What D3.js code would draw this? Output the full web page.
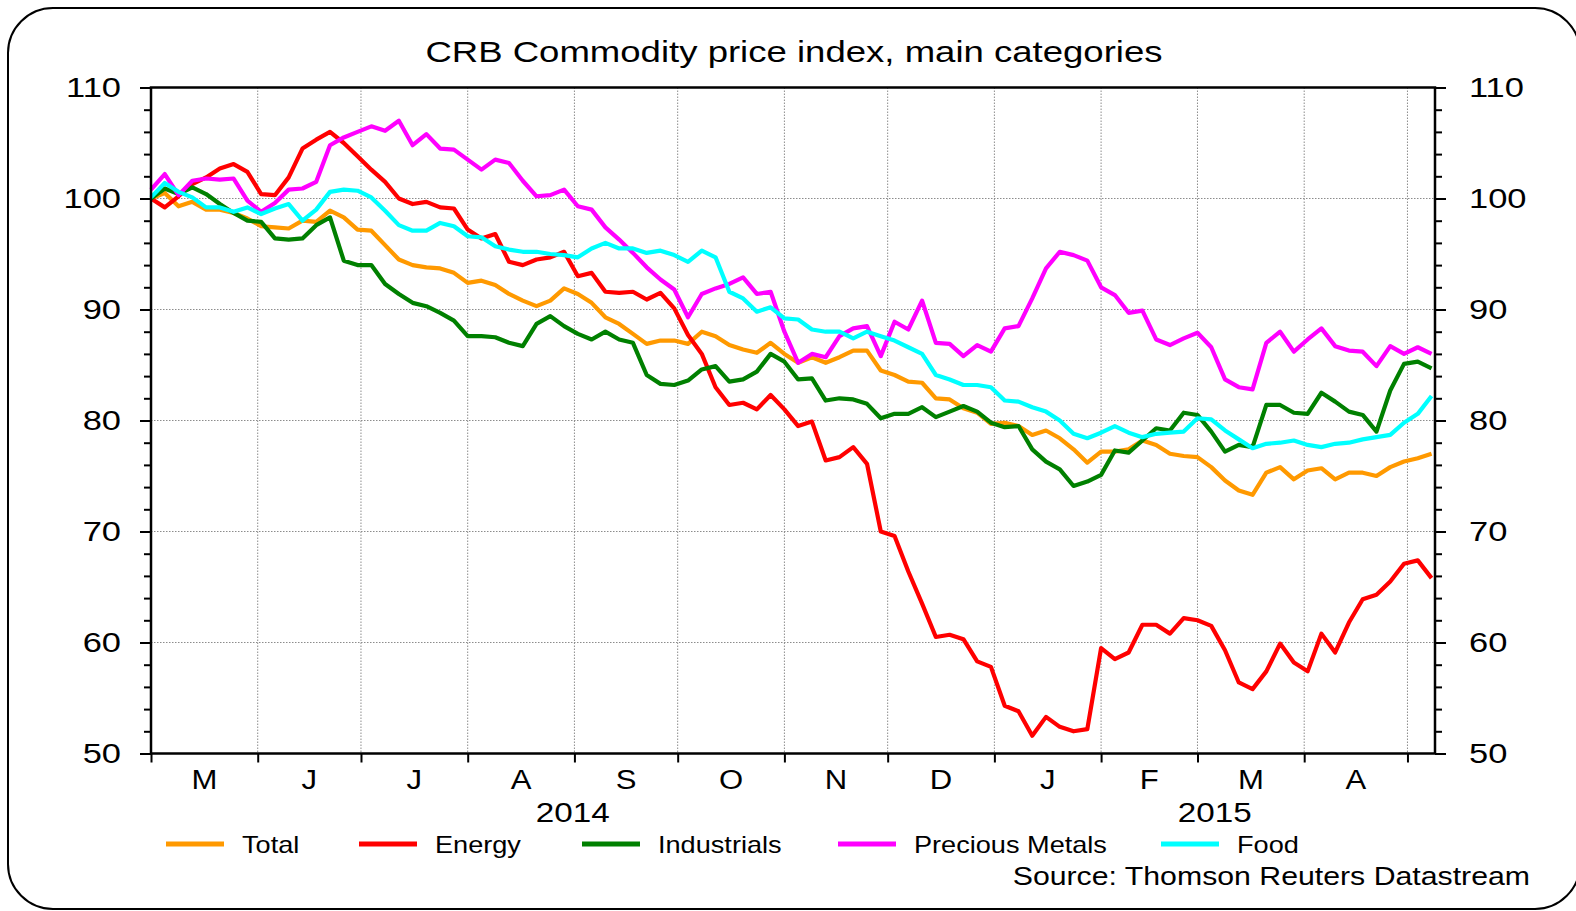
<!DOCTYPE html>
<html>
<head>
<meta charset="utf-8">
<script src="https://cdn.jsdelivr.net/npm/d3@7"></script>
<style>
  body { margin: 0; background: #fff; }
  text { font-family: "Liberation Sans", Arial, sans-serif; fill: #000; }
</style>
</head>
<body>
<div id="container"></div>
<script>
/* CONSTANTS AND GLOBALS */
const width = 1576;
const height = 911;
const margin = { top: 87.5, bottom: 157.5, left: 151, right: 141 };
const stretch = 1.23; // source font is set wider than Arial

/* DATA */
// one reading every 4 days, starting 1 May 2014
const startDate = new Date(2014, 4, 1);
const endDate = new Date(2015, 4, 9);
const dates = d3.timeDay.range(startDate, endDate, 4);

const seriesNames = ["Total", "Energy", "Industrials", "Precious Metals", "Food"];
const seriesColors = ["#ff9900", "#ff0000", "#008000", "#ff00ff", "#00ffff"];

const total = [
  100.0, 100.5, 99.3, 99.7, 99.0, 99.0, 98.7, 98.2, 97.5, 97.4,
  97.3, 98.0, 97.9, 98.9, 98.3, 97.2, 97.1, 95.8, 94.5, 94.0,
  93.8, 93.7, 93.3, 92.4, 92.6, 92.2, 91.4, 90.8, 90.3, 90.8,
  91.9, 91.4, 90.6, 89.3, 88.7, 87.8, 86.9, 87.2, 87.2, 86.9,
  88.0, 87.6, 86.8, 86.4, 86.1, 87.0, 86.0, 85.2, 85.7, 85.2,
  85.7, 86.3, 86.3, 84.5, 84.1, 83.5, 83.4, 82.0, 81.9, 81.1,
  80.7, 79.7, 79.8, 79.5, 78.7, 79.1, 78.4, 77.4, 76.2, 77.2,
  77.2, 77.4, 78.2, 77.8, 77.0, 76.8, 76.7, 75.8, 74.6, 73.7,
  73.3, 75.3, 75.8, 74.7, 75.5, 75.7, 74.7, 75.3, 75.3, 75.0,
  75.8, 76.3, 76.6, 77.0
];
const energy = [
  100.0, 99.2, 100.2, 101.3, 101.9, 102.7, 103.1, 102.4, 100.4, 100.3,
  101.9, 104.5, 105.3, 106.0, 105.0, 103.8, 102.6, 101.5, 100.0, 99.5,
  99.7, 99.2, 99.1, 97.2, 96.4, 96.8, 94.3, 94.0, 94.5, 94.7,
  95.2, 93.0, 93.3, 91.6, 91.5, 91.6, 90.9, 91.5, 90.1, 87.7,
  86.0, 83.0, 81.4, 81.6, 81.0, 82.3, 81.0, 79.5, 79.9, 76.4,
  76.7, 77.6, 76.1, 70.0, 69.6, 66.4, 63.5, 60.5, 60.7, 60.3,
  58.3, 57.8, 54.3, 53.8, 51.6, 53.3, 52.4, 52.0, 52.2, 59.5,
  58.5, 59.1, 61.6, 61.6, 60.8, 62.2, 62.0, 61.5, 59.3, 56.4,
  55.8, 57.4, 59.9, 58.2, 57.4, 60.8, 59.1, 61.8, 63.9, 64.3,
  65.5, 67.1, 67.4, 65.8
];
const industrials = [
  100.0, 100.9, 100.4, 101.0, 100.4, 99.5, 98.7, 98.0, 97.9, 96.4,
  96.3, 96.4, 97.6, 98.3, 94.4, 94.0, 94.0, 92.3, 91.4, 90.6,
  90.3, 89.7, 89.0, 87.6, 87.6, 87.5, 87.0, 86.7, 88.7, 89.4,
  88.5, 87.8, 87.3, 88.0, 87.3, 87.0, 84.1, 83.3, 83.2, 83.6,
  84.6, 84.9, 83.5, 83.7, 84.4, 86.0, 85.3, 83.7, 83.8, 81.8,
  82.0, 81.9, 81.5, 80.2, 80.6, 80.6, 81.2, 80.3, 80.8, 81.3,
  80.8, 79.8, 79.4, 79.5, 77.4, 76.3, 75.6, 74.1, 74.5, 75.1,
  77.3, 77.1, 78.2, 79.3, 79.1, 80.7, 80.5, 79.0, 77.2, 77.8,
  77.6, 81.4, 81.4, 80.7, 80.6, 82.5, 81.7, 80.8, 80.5, 79.0,
  82.7, 85.1, 85.3, 84.7
];
const preciousMetals = [
  100.8, 102.2, 100.3, 101.6, 101.8, 101.7, 101.8, 99.8, 98.8, 99.6,
  100.8, 100.9, 101.5, 104.8, 105.5, 106.0, 106.5, 106.1, 107.0, 104.8,
  105.8, 104.5, 104.4, 103.5, 102.6, 103.5, 103.2, 101.6, 100.2, 100.3,
  100.8, 99.3, 99.0, 97.4, 96.3, 95.1, 93.8, 92.7, 91.8, 89.3,
  91.4, 91.9, 92.3, 92.9, 91.4, 91.6, 88.0, 85.2, 86.0, 85.7,
  87.6, 88.3, 88.5, 85.8, 88.9, 88.2, 90.8, 87.0, 86.9, 85.8,
  86.8, 86.2, 88.3, 88.5, 91.0, 93.7, 95.2, 94.9, 94.4, 92.0,
  91.3, 89.7, 89.9, 87.3, 86.8, 87.4, 87.9, 86.6, 83.7, 83.0,
  82.8, 87.0, 88.0, 86.2, 87.3, 88.3, 86.7, 86.3, 86.2, 84.9,
  86.7, 86.0, 86.6, 86.0
];
const food = [
  100.1, 101.4, 100.6, 100.1, 99.2, 99.2, 98.8, 99.2, 98.6, 99.1,
  99.5, 98.0, 99.0, 100.6, 100.8, 100.7, 100.1, 98.9, 97.6, 97.1,
  97.1, 97.8, 97.5, 96.6, 96.5, 95.7, 95.4, 95.2, 95.2, 95.0,
  94.9, 94.7, 95.5, 96.0, 95.5, 95.5, 95.1, 95.3, 94.9, 94.3,
  95.3, 94.7, 91.6, 91.0, 89.8, 90.2, 89.2, 89.1, 88.2, 88.0,
  88.0, 87.4, 88.0, 87.6, 87.2, 86.6, 86.0, 84.1, 83.7, 83.2,
  83.2, 83.0, 81.8, 81.7, 81.2, 80.8, 80.0, 78.8, 78.4, 78.9,
  79.5, 78.9, 78.5, 78.8, 78.9, 79.0, 80.2, 80.1, 79.1, 78.3,
  77.5, 77.9, 78.0, 78.2, 77.8, 77.6, 77.9, 78.0, 78.3, 78.5,
  78.7, 79.8, 80.6, 82.2
];

const yTicks = [50, 60, 70, 80, 90, 100, 110];
const monthLabels = ["M", "J", "J", "A", "S", "O", "N", "D", "J", "F", "M", "A"];
const yearLabels = [
  { label: "2014", from: new Date(2014, 4, 1), to: new Date(2015, 0, 1) },
  { label: "2015", from: new Date(2015, 0, 1), to: endDate }
];

const allSeries = [total, energy, industrials, preciousMetals, food].map((vals, i) => ({
  name: seriesNames[i],
  color: seriesColors[i],
  values: dates.map((d, j) => ({ date: d, value: vals[j] })).filter(p => p.value !== undefined)
}));

// widen a text selection horizontally, anchor stays put
function widen(sel, k) {
  sel.each(function () {
    const w = this.getComputedTextLength();
    if (w > 0) {
      d3.select(this)
        .attr("textLength", w * k)
        .attr("lengthAdjust", "spacingAndGlyphs");
    }
  });
}

/* SCALES */
const xScale = d3.scaleTime()
  .domain([startDate, endDate])
  .range([margin.left, width - margin.right]);

const yScale = d3.scaleLinear()
  .domain([50, 110])
  .range([height - margin.bottom, margin.top]);

/* HTML ELEMENTS */
const svg = d3.select("#container")
  .append("svg")
  .attr("width", width)
  .attr("height", height);

// rounded outer frame
svg.append("rect")
  .attr("x", 8)
  .attr("y", 8)
  .attr("width", 1572)
  .attr("height", 901)
  .attr("rx", 45)
  .attr("fill", "#fff")
  .attr("stroke", "#000")
  .attr("stroke-width", 2);

// title
svg.append("text")
  .attr("x", 794)
  .attr("y", 62)
  .attr("text-anchor", "middle")
  .attr("font-size", 29)
  .text("CRB Commodity price index, main categories")
  .call(widen, 1.26);

const monthTicks = d3.timeMonth.range(startDate, d3.timeDay.offset(endDate, 1));
const x0 = margin.left, x1 = width - margin.right;
const y0 = height - margin.bottom, y1 = margin.top;

// gridlines
svg.append("g")
  .selectAll("line")
  .data(monthTicks.slice(1))
  .join("line")
  .attr("x1", d => xScale(d))
  .attr("x2", d => xScale(d))
  .attr("y1", y1)
  .attr("y2", y0)
  .attr("stroke", "#8c8c8c")
  .attr("stroke-width", 1)
  .attr("stroke-dasharray", "1.5,1.5");

svg.append("g")
  .selectAll("line")
  .data(yTicks.slice(1, -1))
  .join("line")
  .attr("x1", x0)
  .attr("x2", x1)
  .attr("y1", d => yScale(d))
  .attr("y2", d => yScale(d))
  .attr("stroke", "#8c8c8c")
  .attr("stroke-width", 1)
  .attr("stroke-dasharray", "1.5,1.5");

// axis scales
const minorTicks = d3.range(50, 111, 2);
const yAxisLeft = d3.axisLeft(yScale)
  .tickValues(minorTicks)
  .tickSize(10)
  .tickSizeOuter(0)
  .tickPadding(20)
  .tickFormat(d => d % 10 === 0 ? d : "");
const leftG = svg.append("g")
  .attr("transform", `translate(${x0},0)`)
  .call(yAxisLeft);
leftG.selectAll(".tick line").attr("x2", d => d % 10 === 0 ? -11 : -7);

const yAxisRight = d3.axisRight(yScale)
  .tickValues(minorTicks)
  .tickSize(10)
  .tickSizeOuter(0)
  .tickPadding(24)
  .tickFormat(d => d % 10 === 0 ? d : "");
const rightG = svg.append("g")
  .attr("transform", `translate(${x1},0)`)
  .call(yAxisRight);
rightG.selectAll(".tick line").attr("x2", d => d % 10 === 0 ? 11 : 7);

const xAxis = d3.axisBottom(xScale)
  .tickValues(monthTicks)
  .tickSize(9)
  .tickSizeOuter(0)
  .tickFormat("");
const bottomG = svg.append("g")
  .attr("transform", `translate(0,${y0})`)
  .call(xAxis);

[leftG, rightG, bottomG].forEach(g => {
  g.select(".domain").remove();
  g.selectAll(".tick line").attr("stroke", "#000").attr("stroke-width", 2);
  g.selectAll(".tick text")
    .attr("font-size", 28)
    .attr("font-family", "Liberation Sans, Arial, sans-serif")
    .attr("fill", "#000")
    .call(widen, stretch);
});

// month letters between ticks
svg.append("g")
  .selectAll("text")
  .data(monthLabels)
  .join("text")
  .attr("x", (d, i) => (xScale(monthTicks[i]) + xScale(monthTicks[i + 1])) / 2)
  .attr("y", 789)
  .attr("text-anchor", "middle")
  .attr("font-size", 27)
  .text(d => d)
  .call(widen, 1.15);

svg.append("g")
  .selectAll("text")
  .data(yearLabels)
  .join("text")
  .attr("x", d => (xScale(d.from) + xScale(d.to)) / 2)
  .attr("y", 822)
  .attr("text-anchor", "middle")
  .attr("font-size", 27)
  .text(d => d.label)
  .call(widen, stretch);

// lines
const line = d3.line()
  .x(d => xScale(d.date))
  .y(d => yScale(d.value));

svg.append("g")
  .selectAll("path")
  .data(allSeries)
  .join("path")
  .attr("d", d => line(d.values))
  .attr("fill", "none")
  .attr("stroke", d => d.color)
  .attr("stroke-width", 4.2)
  .attr("stroke-linejoin", "round");

// plot frame
svg.append("rect")
  .attr("x", x0)
  .attr("y", y1)
  .attr("width", x1 - x0)
  .attr("height", y0 - y1)
  .attr("fill", "none")
  .attr("stroke", "#000")
  .attr("stroke-width", 2.5);

// legend
const legendX = [166, 359, 582, 838, 1161];
const legend = svg.append("g")
  .selectAll("g")
  .data(allSeries)
  .join("g")
  .attr("transform", (d, i) => `translate(${legendX[i]},844)`);
legend.append("line")
  .attr("x1", 0)
  .attr("x2", 58)
  .attr("stroke", d => d.color)
  .attr("stroke-width", 5);
legend.append("text")
  .attr("x", 76)
  .attr("y", 9)
  .attr("font-size", 24)
  .text(d => d.name)
  .call(widen, 1.13);

svg.append("text")
  .attr("x", 1530)
  .attr("y", 885)
  .attr("text-anchor", "end")
  .attr("font-size", 25)
  .text("Source: Thomson Reuters Datastream")
  .call(widen, 1.21);
</script>
</body>
</html>
